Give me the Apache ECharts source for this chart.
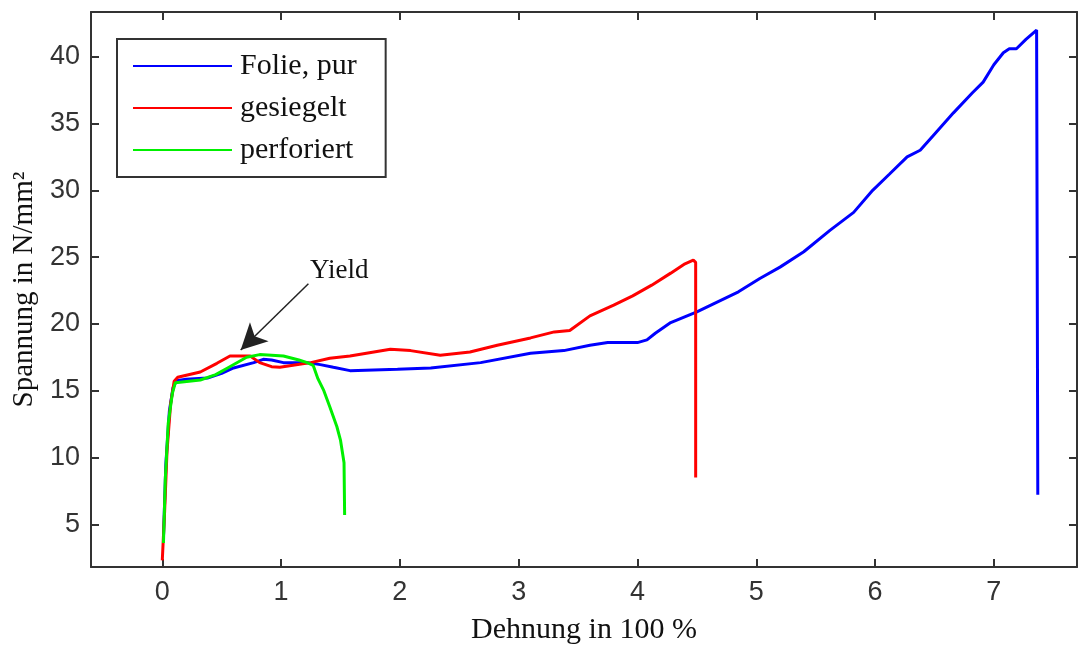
<!DOCTYPE html>
<html>
<head>
<meta charset="utf-8">
<script src="https://cdn.jsdelivr.net/npm/echarts@6/dist/echarts.min.js"></script>
<style>
  html, body { margin: 0; padding: 0; background: #fff; }
  #chart { width: 1078px; height: 646px; }
</style>
</head>
<body>
<div id="chart"></div>
<script>
// values
const folieX = [0.01, 0.03, 0.06, 0.09, 0.12, 0.2, 0.38, 0.5, 0.6, 0.77, 0.85, 0.92, 1.02, 1.22, 1.33, 1.44, 1.58, 1.98, 2.26, 2.68, 3.1, 3.38, 3.6, 3.75, 4.0, 4.08, 4.15, 4.28, 4.5, 4.64, 4.85, 5.03, 5.2, 5.4, 5.62, 5.82, 5.98, 6.12, 6.27, 6.38, 6.5, 6.66, 6.82, 6.91, 7.0, 7.08, 7.13, 7.19, 7.27, 7.36, 7.37];
const folieY = [4.0, 9.5, 13.5, 15.2, 15.75, 15.85, 15.95, 16.3, 16.7, 17.1, 17.35, 17.3, 17.1, 17.1, 16.95, 16.75, 16.5, 16.6, 16.7, 17.1, 17.8, 18.0, 18.4, 18.6, 18.6, 18.8, 19.3, 20.1, 20.9, 21.5, 22.4, 23.4, 24.25, 25.4, 27.0, 28.35, 30.0, 31.2, 32.5, 33.0, 34.2, 35.8, 37.3, 38.1, 39.4, 40.3, 40.6, 40.6, 41.3, 42.0, 7.2];

const gesiegeltX = [0.0, 0.02, 0.04, 0.07, 0.1, 0.13, 0.32, 0.46, 0.57, 0.74, 0.82, 0.92, 0.99, 1.1, 1.25, 1.41, 1.58, 1.92, 2.09, 2.34, 2.59, 2.82, 3.1, 3.3, 3.43, 3.6, 3.8, 3.96, 4.12, 4.28, 4.4, 4.47, 4.49, 4.49];
const gesiegeltY = [2.3, 6.0, 10.5, 14.0, 15.7, 16.0, 16.4, 17.05, 17.6, 17.6, 17.1, 16.8, 16.75, 16.9, 17.1, 17.43, 17.6, 18.1, 18.0, 17.65, 17.9, 18.4, 18.95, 19.4, 19.5, 20.6, 21.4, 22.1, 22.9, 23.8, 24.5, 24.77, 24.6, 8.5];

const perforiertX = [0.01, 0.025, 0.05, 0.085, 0.11, 0.32, 0.45, 0.55, 0.71, 0.82, 1.02, 1.15, 1.22, 1.27, 1.31, 1.36, 1.41, 1.47, 1.5, 1.53, 1.535];
const perforiertY = [3.6, 8.3, 12.55, 14.8, 15.6, 15.8, 16.2, 16.7, 17.5, 17.7, 17.6, 17.3, 17.1, 16.9, 15.9, 15.0, 13.8, 12.3, 11.3, 9.6, 5.7];

const xTicks = [0, 1, 2, 3, 4, 5, 6, 7];
const yTicks = [5, 10, 15, 20, 25, 30, 35, 40];

// Yield arrow: start, tip and label position in data units
const yieldFrom = [1.23, 23.0];
const yieldTo = [0.66, 18.05];
const yieldText = [1.49, 24.0];

const zip = (xs, ys) => xs.map((x, i) => [x, ys[i]]);

const serif = "'Liberation Serif', 'Times New Roman', serif";
const sans = "'Liberation Sans', Arial, sans-serif";
const axisCol = '#333';

const chart = echarts.init(document.getElementById('chart'));

const xBase = {
  type: 'value', min: -0.6, max: 7.7,
  axisLine: { show: true, onZero: false, lineStyle: { color: axisCol, width: 2 } },
  axisTick: { show: true, inside: true, length: 8, customValues: xTicks, lineStyle: { color: axisCol, width: 2 } },
  splitLine: { show: false }
};
const yBase = {
  type: 'value', min: 1.8, max: 43.35,
  axisLine: { show: true, onZero: false, lineStyle: { color: axisCol, width: 2 } },
  axisTick: { show: true, inside: true, length: 8, customValues: yTicks, lineStyle: { color: axisCol, width: 2 } },
  splitLine: { show: false }
};

chart.setOption({
  backgroundColor: '#fff',
  animation: false,
  grid: { left: 91, right: 1, top: 12, bottom: 79, outerBoundsMode: 'none' },
  legend: {
    orient: 'vertical',
    left: 117, top: 39,
    padding: [12, 29, 12, 16],
    icon: 'rect',
    itemWidth: 99, itemHeight: 2, itemGap: 12,
    backgroundColor: '#fff',
    borderColor: axisCol, borderWidth: 2,
    textStyle: { fontFamily: serif, fontSize: 30, color: '#111', lineHeight: 30, padding: [0, 0, 0, 3] },
    data: ['Folie, pur', 'gesiegelt', 'perforiert']
  },
  xAxis: [
    Object.assign({}, xBase, {
      position: 'bottom',
      name: 'Dehnung in 100 %', nameLocation: 'middle', nameGap: 48,
      nameTextStyle: { fontFamily: serif, fontSize: 30, color: '#111' },
      axisLabel: { customValues: xTicks, margin: 12, fontFamily: sans, fontSize: 27, color: '#333' }
    }),
    Object.assign({}, xBase, { position: 'top', axisLabel: { show: false } })
  ],
  yAxis: [
    Object.assign({}, yBase, {
      position: 'left',
      name: 'Spannung in N/mm²', nameLocation: 'middle', nameGap: 45,
      nameTextStyle: { fontFamily: serif, fontSize: 29, color: '#111' },
      axisLabel: { customValues: yTicks, margin: 11, fontFamily: sans, fontSize: 27, color: '#333' }
    }),
    Object.assign({}, yBase, { position: 'right', axisLabel: { show: false } })
  ],
  series: [
    {
      name: 'Folie, pur', type: 'line', data: zip(folieX, folieY),
      symbol: 'none', color: '#0000ff', lineStyle: { width: 3 }
    },
    {
      name: 'gesiegelt', type: 'line', data: zip(gesiegeltX, gesiegeltY),
      symbol: 'none', color: '#ff0000', lineStyle: { width: 3 }
    },
    {
      name: 'perforiert', type: 'line', data: zip(perforiertX, perforiertY),
      symbol: 'none', color: '#00f000', lineStyle: { width: 3 },
      markLine: {
        silent: true, animation: false,
        symbol: ['none', 'arrow'], symbolSize: [20, 26],
        label: { show: false },
        lineStyle: { color: '#222', width: 1.5, type: 'solid' },
        data: [[{ coord: yieldFrom }, { coord: yieldTo }]]
      },
      markPoint: {
        silent: true, symbol: 'circle', symbolSize: 0,
        label: { show: true, position: 'inside', formatter: 'Yield', fontFamily: serif, fontSize: 27, color: '#111' },
        data: [{ coord: yieldText }]
      }
    }
  ]
});
</script>
</body>
</html>
